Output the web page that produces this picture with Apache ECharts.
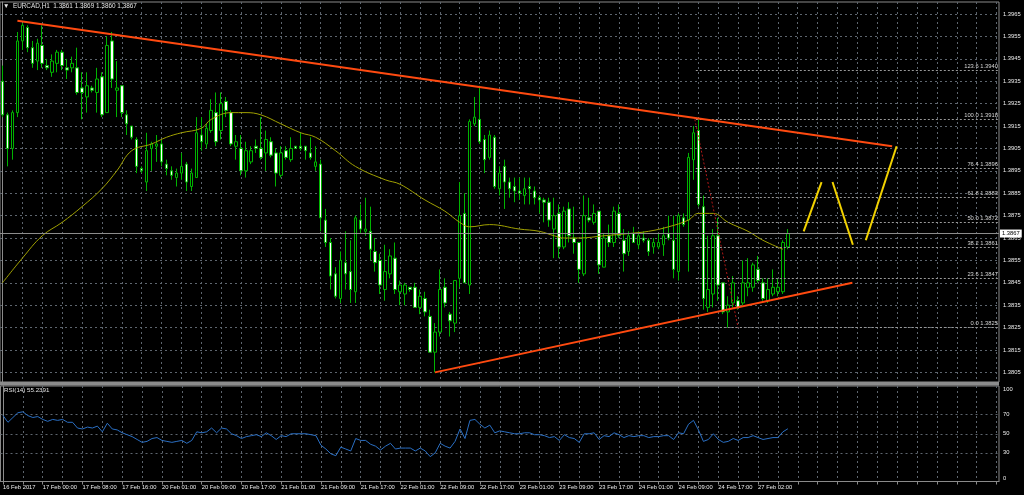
<!DOCTYPE html>
<html><head><meta charset="utf-8">
<style>html,body{margin:0;padding:0;background:#000;}#c{width:1024px;height:495px;}</style>
<script src="https://cdn.jsdelivr.net/npm/echarts@6.0.0/dist/echarts.min.js"></script>
</head><body><div id="c"></div>
<script>
// ---- data (EURCAD H1) ----
const open = [1.3935,1.3920,1.3905,1.3921,1.3953,1.3959,1.3950,1.3944,1.3951,1.3942,1.3939,1.3943,1.3948,1.3941,1.3941,1.3941,1.3932,1.3928,1.3932,1.3930,1.3937,1.3921,1.3953,1.3931,1.3933,1.3920,1.3915,1.3909,1.3896,1.3890,1.3905,1.3906,1.3907,1.3898,1.3895,1.3892,1.3894,1.3898,1.3888,1.3892,1.3911,1.3907,1.3913,1.3921,1.3913,1.3926,1.3921,1.3906,1.3905,1.3895,1.3899,1.3906,1.3905,1.3903,1.3908,1.3903,1.3893,1.3904,1.3900,1.3906,1.3906,1.3906,1.3903,1.3897,1.3898,1.3873,1.3863,1.3849,1.3838,1.3854,1.3850,1.3841,1.3873,1.3868,1.3868,1.3859,1.3855,1.3842,1.3849,1.3856,1.3841,1.3840,1.3843,1.3843,1.3834,1.3838,1.3830,1.3814,1.3823,1.3843,1.3831,1.3827,1.3847,1.3876,1.3844,1.3916,1.3918,1.3909,1.3901,1.3910,1.3887,1.3897,1.3890,1.3888,1.3886,1.3884,1.3888,1.3886,1.3883,1.3882,1.3881,1.3869,1.3876,1.3861,1.3878,1.3865,1.3863,1.3849,1.3874,1.3872,1.3877,1.3852,1.3866,1.3863,1.3876,1.3864,1.3859,1.3867,1.3862,1.3865,1.3864,1.3861,1.3861,1.3862,1.3867,1.3864,1.3850,1.3874,1.3873,1.3900,1.3913,1.3879,1.3834,1.3840,1.3866,1.3845,1.3832,1.3836,1.3837,1.3836,1.3843,1.3843,1.3851,1.3845,1.3837,1.3840,1.3841,1.3841,1.3861];
const high = [1.3942,1.3921,1.3922,1.3957,1.3961,1.3960,1.3953,1.3954,1.3960,1.3945,1.3947,1.3949,1.3949,1.3945,1.3946,1.3950,1.3939,1.3939,1.3933,1.3941,1.3939,1.3955,1.3957,1.3944,1.3933,1.3922,1.3915,1.3910,1.3897,1.3912,1.3908,1.3911,1.3909,1.3900,1.3897,1.3896,1.3903,1.3899,1.3896,1.3919,1.3919,1.3916,1.3927,1.3930,1.3930,1.3928,1.3922,1.3911,1.3911,1.3908,1.3906,1.3909,1.3919,1.3913,1.3910,1.3905,1.3906,1.3906,1.3910,1.3906,1.3912,1.3906,1.3910,1.3906,1.3900,1.3878,1.3865,1.3852,1.3859,1.3868,1.3864,1.3875,1.3880,1.3883,1.3879,1.3865,1.3858,1.3862,1.3860,1.3863,1.3846,1.3845,1.3843,1.3845,1.3842,1.3841,1.3833,1.3827,1.3851,1.3847,1.3832,1.3846,1.3890,1.3885,1.3918,1.3928,1.3933,1.3911,1.3913,1.3911,1.3897,1.3900,1.3892,1.3892,1.3892,1.3892,1.3892,1.3888,1.3884,1.3883,1.3883,1.3883,1.3880,1.3879,1.3881,1.3879,1.3863,1.3884,1.3883,1.3880,1.3877,1.3867,1.3871,1.3879,1.3880,1.3869,1.3868,1.3870,1.3868,1.3868,1.3865,1.3865,1.3867,1.3870,1.3875,1.3875,1.3876,1.3876,1.3903,1.3915,1.3918,1.3884,1.3866,1.3869,1.3874,1.3845,1.3839,1.3848,1.3839,1.3855,1.3856,1.3854,1.3857,1.3847,1.3847,1.3851,1.3847,1.3864,1.3869];
const low = [1.3919,1.3897,1.3900,1.3919,1.3949,1.3948,1.3941,1.3940,1.3941,1.3940,1.3937,1.3939,1.3940,1.3936,1.3939,1.3929,1.3918,1.3921,1.3930,1.3921,1.3919,1.3921,1.3932,1.3919,1.3919,1.3911,1.3909,1.3894,1.3894,1.3886,1.3895,1.3899,1.3897,1.3893,1.3891,1.3888,1.3891,1.3886,1.3886,1.3892,1.3904,1.3905,1.3912,1.3906,1.3909,1.3919,1.3906,1.3900,1.3893,1.3892,1.3898,1.3903,1.3900,1.3895,1.3901,1.3888,1.3892,1.3900,1.3899,1.3905,1.3904,1.3900,1.3900,1.3895,1.3868,1.3861,1.3842,1.3838,1.3836,1.3842,1.3836,1.3836,1.3867,1.3866,1.3855,1.3850,1.3840,1.3837,1.3847,1.3840,1.3835,1.3835,1.3841,1.3834,1.3831,1.3830,1.3814,1.3805,1.3821,1.3834,1.3821,1.3823,1.3843,1.3845,1.3840,1.3915,1.3907,1.3894,1.3900,1.3887,1.3884,1.3878,1.3883,1.3881,1.3882,1.3880,1.3880,1.3880,1.3876,1.3872,1.3870,1.3856,1.3856,1.3860,1.3863,1.3858,1.3845,1.3848,1.3872,1.3871,1.3849,1.3852,1.3861,1.3861,1.3865,1.3850,1.3857,1.3863,1.3860,1.3863,1.3857,1.3858,1.3860,1.3857,1.3864,1.3847,1.3846,1.3870,1.3850,1.3891,1.3879,1.3833,1.3832,1.3834,1.3837,1.3831,1.3825,1.3834,1.3833,1.3835,1.3839,1.3841,1.3845,1.3837,1.3836,1.3839,1.3839,1.3840,1.3860];
const close = [1.3920,1.3905,1.3921,1.3953,1.3960,1.3950,1.3943,1.3952,1.3943,1.3941,1.3944,1.3948,1.3942,1.3940,1.3943,1.3930,1.3930,1.3933,1.3931,1.3936,1.3920,1.3951,1.3936,1.3932,1.3921,1.3916,1.3910,1.3897,1.3895,1.3904,1.3907,1.3907,1.3899,1.3896,1.3893,1.3894,1.3897,1.3890,1.3894,1.3912,1.3908,1.3914,1.3922,1.3908,1.3925,1.3922,1.3907,1.3908,1.3895,1.3904,1.3904,1.3905,1.3901,1.3909,1.3902,1.3894,1.3903,1.3901,1.3905,1.3905,1.3905,1.3904,1.3901,1.3899,1.3874,1.3863,1.3848,1.3839,1.3855,1.3849,1.3842,1.3874,1.3869,1.3869,1.3860,1.3854,1.3844,1.3850,1.3857,1.3842,1.3844,1.3844,1.3842,1.3834,1.3839,1.3832,1.3814,1.3823,1.3842,1.3836,1.3828,1.3846,1.3875,1.3845,1.3917,1.3919,1.3908,1.3900,1.3911,1.3888,1.3894,1.3890,1.3887,1.3886,1.3885,1.3887,1.3887,1.3883,1.3882,1.3881,1.3873,1.3875,1.3861,1.3877,1.3866,1.3863,1.3851,1.3875,1.3873,1.3876,1.3853,1.3865,1.3863,1.3877,1.3866,1.3858,1.3866,1.3863,1.3866,1.3864,1.3859,1.3863,1.3863,1.3866,1.3865,1.3851,1.3875,1.3871,1.3901,1.3912,1.3880,1.3838,1.3842,1.3866,1.3844,1.3832,1.3835,1.3845,1.3834,1.3845,1.3845,1.3853,1.3846,1.3838,1.3842,1.3843,1.3843,1.3863,1.3867];
const rsi = [69,62,67,72,73,69,67,68,65,63,65,64,65,62,62,56,55,57,56,58,52,61,55,54,51,49,47,44,41,42,45,46,43,42,41,42,43,40,43,52,51,52,56,51,56,55,50,48,45,47,48,49,47,51,48,44,48,47,50,50,50,50,49,48,38,34,29,27,36,34,32,45,43,43,39,37,33,37,40,34,35,35,35,32,35,32,26,30,40,37,35,42,55,45,64,65,60,56,59,51,53,52,51,50,50,51,51,49,49,48,46,47,43,49,46,45,41,50,50,51,44,48,47,51,49,46,48,47,48,48,46,47,47,48,48,44,51,50,60,64,54,42,44,50,44,41,42,45,43,46,46,48,46,44,45,46,46,52,55.2391];
// moving average read at sample bars: [bar index, price]
const maPoints = [[0,1.3845],[4,1.3856],[8,1.3866],[12,1.3872],[16,1.3879],[20,1.3887],[23,1.3895],[26,1.3904],[30,1.3907],[33,1.3910],[36,1.3912],[40,1.3914],[42,1.3918],[46,1.3921],[49,1.3921],[52,1.3920],[56,1.3916],[60,1.3912],[63,1.3910],[67,1.3904],[71,1.3897],[77,1.3891],[80,1.3889],[85,1.3882],[89,1.3877],[92,1.3872],[94,1.3870],[98,1.3871],[104,1.3869],[108,1.3868],[111,1.3866],[113,1.3865],[116,1.3865],[121,1.3866],[126,1.3867],[130,1.3868],[134,1.3870],[138,1.3873],[140,1.3876],[143,1.3876],[146,1.3872],[150,1.3868],[153,1.3864],[157,1.3860]];
const priceTicks = [1.3805,1.3815,1.3825,1.3835,1.3845,1.3855,1.3865,1.3875,1.3885,1.3895,1.3905,1.3915,1.3925,1.3935,1.3945,1.3955,1.3965];
const timeLabels = ["16 Feb 2017","17 Feb 00:00","17 Feb 08:00","17 Feb 16:00","20 Feb 01:00","20 Feb 09:00","20 Feb 17:00","21 Feb 01:00","21 Feb 09:00","21 Feb 17:00","22 Feb 01:00","22 Feb 09:00","22 Feb 17:00","23 Feb 01:00","23 Feb 09:00","23 Feb 17:00","24 Feb 01:00","24 Feb 09:00","24 Feb 17:00","27 Feb 02:00"];
const fibRatios = ["123.6","100.0","76.4","61.8","50.0","38.2","23.6","0.0"];
const fibPrices = [1.3940,1.3918,1.3896,1.3883,1.3872,1.3861,1.3847,1.3825];
const fibStart = 139.5;
const fibAnchor = [[139.3,1.3918],[148,1.3825]];
const upperTrend = [[3,1.3962],[179,1.3906]];
const lowerTrend = [[87,1.3805],[171,1.3845]];
const zigA = [[161.2,1.3868],[164.8,1.3890]];
const zigB = [[167,1.3890],[171.1,1.3862]];
const zigC = [[173.7,1.3864],[179.9,1.3906]];
const rsiLevels = [30,50,70];
const SLOTS = 201;

// ---- build ----
const cats = Array.from({length: SLOTS}, (_, i) => i);
const candles = open.map((o, i) => [o, close[i], low[i], high[i]]);
const vGrid = []; for (let i = 0; i < SLOTS; i += 4) vGrid.push(i);
const vLab = timeLabels.map((_, i) => i * 8);
const last = open.length - 1;
const FONT = 'Liberation Sans';
const TXT = '#ececec';
const FS = 5.8;
const GRIDC = '#5d656e';
const dashed = {show: true, lineStyle: {color: GRIDC, type: [2, 3], width: 1}};

function seg(data, color, width, type) {
  return {type: 'line', xAxisIndex: 1, yAxisIndex: 0, data: data, showSymbol: false,
    lineStyle: {color: color, width: width, type: type || 'solid'}, silent: true, z: 5, animation: false};
}

const chart = echarts.init(document.getElementById('c'), null, {renderer: 'canvas'});
chart.setOption({
  backgroundColor: '#000',
  animation: false,
  textStyle: {fontFamily: FONT},
  title: [
    {text: '\u25BC  EURCAD,H1  ' + [open[last], high[last], low[last], close[last]].map(v => v.toFixed(4)).join(' '),
     left: 3, top: 3, padding: 0, textStyle: {color: '#e4e4e4', fontSize: 6.4, fontWeight: 'normal', fontFamily: FONT}},
    {text: 'RSI(14) ' + rsi[last].toFixed(4), left: 4, top: 387, padding: 0,
     textStyle: {color: '#e4e4e4', fontSize: 6.2, fontWeight: 'normal', fontFamily: FONT}}
  ],
  grid: [
    {left: 0, top: 2, width: 999, height: 380, show: true, borderColor: '#8a8a8a', borderWidth: 1},
    {left: 0, top: 386, width: 999, height: 95.5, show: true, borderColor: '#8a8a8a', borderWidth: 1}
  ],
  xAxis: [
    {type: 'category', gridIndex: 0, data: cats, boundaryGap: true, show: false},
    {type: 'value', gridIndex: 0, min: -0.5, max: SLOTS - 0.5,
     axisLine: {show: false}, axisLabel: {show: false},
     axisTick: {show: false, customValues: vGrid}, splitLine: dashed},
    {type: 'value', gridIndex: 1, min: -0.5, max: SLOTS - 0.5, position: 'bottom',
     axisLine: {show: true, lineStyle: {color: '#8a8a8a'}},
     axisTick: {show: true, customValues: vGrid, length: 3, lineStyle: {color: '#8a8a8a'}},
     axisLabel: {show: true, customValues: vLab, formatter: v => timeLabels[Math.round(v / 8)] || '',
       align: 'left', margin: 3, color: TXT, fontSize: FS, fontFamily: FONT, hideOverlap: false},
     splitLine: dashed}
  ],
  yAxis: [
    {type: 'value', gridIndex: 0, position: 'right', min: 1.38007, max: 1.39704,
     axisLine: {show: true, lineStyle: {color: '#8a8a8a'}},
     axisTick: {show: false, customValues: priceTicks},
     axisLabel: {customValues: priceTicks, formatter: v => v.toFixed(4), color: TXT, fontSize: FS, margin: 4, fontFamily: FONT},
     splitLine: dashed},
    {type: 'value', gridIndex: 1, position: 'right', min: 0, max: 100,
     axisLine: {show: true, lineStyle: {color: '#8a8a8a'}},
     axisTick: {show: false, customValues: rsiLevels},
     axisLabel: {customValues: [0, 30, 50, 70, 100], margin: 4, color: TXT, fontSize: FS, fontFamily: FONT,
       formatter: v => v === 100 ? '{t|100}' : (v === 0 ? '{b|0}' : String(v)),
       rich: {t: {padding: [7, 0, 0, 0], color: TXT, fontSize: FS}, b: {padding: [0, 0, 7, 0], color: TXT, fontSize: FS}}},
     splitLine: dashed}
  ],
  series: [
    {type: 'candlestick', xAxisIndex: 0, yAxisIndex: 0, data: candles, barWidth: 3, z: 3,
     itemStyle: {color: '#000000', color0: '#ffffff', borderColor: '#00b400', borderColor0: '#00b400', borderWidth: 1}},
    {type: 'line', xAxisIndex: 1, yAxisIndex: 0, data: maPoints, showSymbol: false, smooth: 0.4,
     lineStyle: {color: '#a0a000', width: 1}, z: 4, silent: true},
    {type: 'line', xAxisIndex: 1, yAxisIndex: 0, data: [], silent: true, z: 2,
     markLine: {silent: true, symbol: 'none', animation: false,
       lineStyle: {color: '#9a9a9a', type: [2, 2], width: 1},
       label: {show: true, position: 'insideEndTop', formatter: '{b}', color: '#d4d4d4', fontSize: FS, distance: 1, fontFamily: FONT},
       data: fibPrices.map((p, i) => [{name: fibRatios[i] + ' ' + p.toFixed(4), coord: [fibStart, p]}, {coord: [SLOTS - 0.5, p]}])}},
    {type: 'line', xAxisIndex: 1, yAxisIndex: 0, data: [], silent: true, z: 2,
     markLine: {silent: true, symbol: 'none', animation: false,
       lineStyle: {color: '#8c8c8c', type: 'solid', width: 1},
       label: {show: true, position: 'end', distance: 1, formatter: () => close[last].toFixed(4), backgroundColor: '#ffffff',
         color: '#000', fontSize: FS, padding: [1, 2, 1, 2], fontFamily: FONT},
       data: [[{coord: [-0.5, close[last]]}, {coord: [SLOTS - 0.5, close[last]]}]]}},
    seg(fibAnchor, '#b01818', 1, [2, 2]),
    seg(upperTrend, '#ff4a10', 2),
    seg(lowerTrend, '#ff4a10', 2),
    seg(zigA, '#f2d200', 2),
    seg(zigB, '#f2d200', 2),
    seg(zigC, '#f2d200', 2),
    {type: 'line', xAxisIndex: 2, yAxisIndex: 1, data: rsi.map((v, i) => [i, v]), showSymbol: false,
     lineStyle: {color: '#2a6fc4', width: 1}, silent: true}
  ],
  graphic: [{type: 'rect', shape: {x: 0, y: 382, width: 999, height: 3.5}, style: {fill: '#8c8c8c'}, silent: true, z: 10}]
});
</script></body></html>
